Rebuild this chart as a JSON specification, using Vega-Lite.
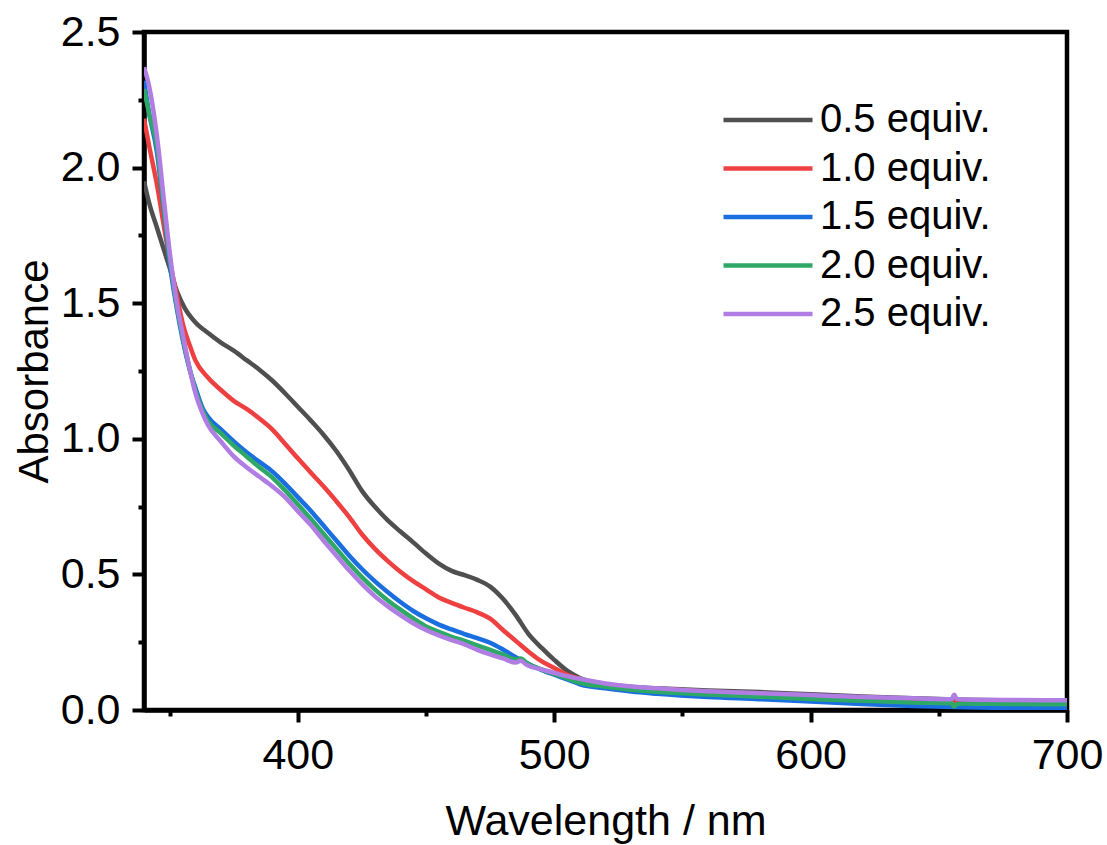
{
  "$schema": "https://vega.github.io/schema/vega-lite/v6.json",
  "width": 923,
  "height": 678,
  "autosize": {"type": "none"},
  "padding": {"left": 144, "top": 32, "right": 40, "bottom": 135},
  "background": "white",
  "config": {"view": {"stroke": "black", "strokeWidth": 4.5}, "font": "Liberation Sans"},
  "datasets": {
    "spec": [
      {"s":"0.5 equiv.","wl":340,"A":1.95},{"s":"0.5 equiv.","wl":342,"A":1.87},{"s":"0.5 equiv.","wl":345,"A":1.78},{"s":"0.5 equiv.","wl":348,"A":1.69},{"s":"0.5 equiv.","wl":350,"A":1.63},{"s":"0.5 equiv.","wl":353,"A":1.54},{"s":"0.5 equiv.","wl":356,"A":1.48},{"s":"0.5 equiv.","wl":360,"A":1.43},{"s":"0.5 equiv.","wl":365,"A":1.39},{"s":"0.5 equiv.","wl":370,"A":1.355},{"s":"0.5 equiv.","wl":375,"A":1.325},{"s":"0.5 equiv.","wl":380,"A":1.29},{"s":"0.5 equiv.","wl":385,"A":1.255},{"s":"0.5 equiv.","wl":390,"A":1.215},{"s":"0.5 equiv.","wl":395,"A":1.168},{"s":"0.5 equiv.","wl":400,"A":1.118},{"s":"0.5 equiv.","wl":405,"A":1.068},{"s":"0.5 equiv.","wl":410,"A":1.015},{"s":"0.5 equiv.","wl":415,"A":0.955},{"s":"0.5 equiv.","wl":420,"A":0.885},{"s":"0.5 equiv.","wl":425,"A":0.808},{"s":"0.5 equiv.","wl":430,"A":0.75},{"s":"0.5 equiv.","wl":435,"A":0.70},{"s":"0.5 equiv.","wl":440,"A":0.658},{"s":"0.5 equiv.","wl":445,"A":0.618},{"s":"0.5 equiv.","wl":450,"A":0.577},{"s":"0.5 equiv.","wl":455,"A":0.54},{"s":"0.5 equiv.","wl":460,"A":0.513},{"s":"0.5 equiv.","wl":465,"A":0.497},{"s":"0.5 equiv.","wl":470,"A":0.48},{"s":"0.5 equiv.","wl":475,"A":0.455},{"s":"0.5 equiv.","wl":480,"A":0.41},{"s":"0.5 equiv.","wl":485,"A":0.35},{"s":"0.5 equiv.","wl":490,"A":0.28},{"s":"0.5 equiv.","wl":495,"A":0.23},{"s":"0.5 equiv.","wl":500,"A":0.185},{"s":"0.5 equiv.","wl":505,"A":0.145},{"s":"0.5 equiv.","wl":510,"A":0.118},{"s":"0.5 equiv.","wl":520,"A":0.095},{"s":"0.5 equiv.","wl":530,"A":0.085},{"s":"0.5 equiv.","wl":540,"A":0.08},{"s":"0.5 equiv.","wl":560,"A":0.072},{"s":"0.5 equiv.","wl":580,"A":0.066},{"s":"0.5 equiv.","wl":600,"A":0.058},{"s":"0.5 equiv.","wl":620,"A":0.05},{"s":"0.5 equiv.","wl":640,"A":0.043},{"s":"0.5 equiv.","wl":660,"A":0.038},{"s":"0.5 equiv.","wl":680,"A":0.035},{"s":"0.5 equiv.","wl":700,"A":0.033},
      {"s":"1.0 equiv.","wl":340,"A":2.18},{"s":"1.0 equiv.","wl":342,"A":2.08},{"s":"1.0 equiv.","wl":345,"A":1.94},{"s":"1.0 equiv.","wl":348,"A":1.77},{"s":"1.0 equiv.","wl":350,"A":1.66},{"s":"1.0 equiv.","wl":353,"A":1.52},{"s":"1.0 equiv.","wl":355,"A":1.43},{"s":"1.0 equiv.","wl":358,"A":1.34},{"s":"1.0 equiv.","wl":360,"A":1.29},{"s":"1.0 equiv.","wl":365,"A":1.225},{"s":"1.0 equiv.","wl":370,"A":1.18},{"s":"1.0 equiv.","wl":375,"A":1.14},{"s":"1.0 equiv.","wl":380,"A":1.11},{"s":"1.0 equiv.","wl":385,"A":1.075},{"s":"1.0 equiv.","wl":390,"A":1.035},{"s":"1.0 equiv.","wl":395,"A":0.982},{"s":"1.0 equiv.","wl":400,"A":0.928},{"s":"1.0 equiv.","wl":405,"A":0.876},{"s":"1.0 equiv.","wl":410,"A":0.825},{"s":"1.0 equiv.","wl":415,"A":0.77},{"s":"1.0 equiv.","wl":420,"A":0.712},{"s":"1.0 equiv.","wl":425,"A":0.648},{"s":"1.0 equiv.","wl":430,"A":0.595},{"s":"1.0 equiv.","wl":435,"A":0.55},{"s":"1.0 equiv.","wl":440,"A":0.51},{"s":"1.0 equiv.","wl":445,"A":0.475},{"s":"1.0 equiv.","wl":450,"A":0.445},{"s":"1.0 equiv.","wl":455,"A":0.415},{"s":"1.0 equiv.","wl":460,"A":0.395},{"s":"1.0 equiv.","wl":465,"A":0.377},{"s":"1.0 equiv.","wl":470,"A":0.36},{"s":"1.0 equiv.","wl":475,"A":0.337},{"s":"1.0 equiv.","wl":480,"A":0.295},{"s":"1.0 equiv.","wl":485,"A":0.255},{"s":"1.0 equiv.","wl":490,"A":0.215},{"s":"1.0 equiv.","wl":495,"A":0.18},{"s":"1.0 equiv.","wl":500,"A":0.155},{"s":"1.0 equiv.","wl":505,"A":0.13},{"s":"1.0 equiv.","wl":510,"A":0.115},{"s":"1.0 equiv.","wl":520,"A":0.095},{"s":"1.0 equiv.","wl":530,"A":0.085},{"s":"1.0 equiv.","wl":540,"A":0.078},{"s":"1.0 equiv.","wl":560,"A":0.068},{"s":"1.0 equiv.","wl":580,"A":0.058},{"s":"1.0 equiv.","wl":600,"A":0.048},{"s":"1.0 equiv.","wl":620,"A":0.04},{"s":"1.0 equiv.","wl":640,"A":0.033},{"s":"1.0 equiv.","wl":660,"A":0.028},{"s":"1.0 equiv.","wl":680,"A":0.025},{"s":"1.0 equiv.","wl":700,"A":0.023},
      {"s":"1.5 equiv.","wl":340,"A":2.32},{"s":"1.5 equiv.","wl":342,"A":2.2},{"s":"1.5 equiv.","wl":345,"A":2.06},{"s":"1.5 equiv.","wl":348,"A":1.82},{"s":"1.5 equiv.","wl":350,"A":1.65},{"s":"1.5 equiv.","wl":353,"A":1.47},{"s":"1.5 equiv.","wl":355,"A":1.37},{"s":"1.5 equiv.","wl":358,"A":1.25},{"s":"1.5 equiv.","wl":360,"A":1.19},{"s":"1.5 equiv.","wl":363,"A":1.11},{"s":"1.5 equiv.","wl":365,"A":1.08},{"s":"1.5 equiv.","wl":370,"A":1.035},{"s":"1.5 equiv.","wl":375,"A":0.99},{"s":"1.5 equiv.","wl":380,"A":0.95},{"s":"1.5 equiv.","wl":385,"A":0.915},{"s":"1.5 equiv.","wl":390,"A":0.88},{"s":"1.5 equiv.","wl":395,"A":0.835},{"s":"1.5 equiv.","wl":400,"A":0.785},{"s":"1.5 equiv.","wl":405,"A":0.735},{"s":"1.5 equiv.","wl":410,"A":0.68},{"s":"1.5 equiv.","wl":415,"A":0.625},{"s":"1.5 equiv.","wl":420,"A":0.57},{"s":"1.5 equiv.","wl":425,"A":0.52},{"s":"1.5 equiv.","wl":430,"A":0.475},{"s":"1.5 equiv.","wl":435,"A":0.435},{"s":"1.5 equiv.","wl":440,"A":0.398},{"s":"1.5 equiv.","wl":445,"A":0.365},{"s":"1.5 equiv.","wl":450,"A":0.338},{"s":"1.5 equiv.","wl":455,"A":0.315},{"s":"1.5 equiv.","wl":460,"A":0.297},{"s":"1.5 equiv.","wl":465,"A":0.28},{"s":"1.5 equiv.","wl":470,"A":0.265},{"s":"1.5 equiv.","wl":475,"A":0.248},{"s":"1.5 equiv.","wl":480,"A":0.223},{"s":"1.5 equiv.","wl":485,"A":0.195},{"s":"1.5 equiv.","wl":490,"A":0.17},{"s":"1.5 equiv.","wl":495,"A":0.148},{"s":"1.5 equiv.","wl":500,"A":0.13},{"s":"1.5 equiv.","wl":505,"A":0.113},{"s":"1.5 equiv.","wl":510,"A":0.095},{"s":"1.5 equiv.","wl":520,"A":0.08},{"s":"1.5 equiv.","wl":530,"A":0.068},{"s":"1.5 equiv.","wl":540,"A":0.06},{"s":"1.5 equiv.","wl":560,"A":0.048},{"s":"1.5 equiv.","wl":580,"A":0.04},{"s":"1.5 equiv.","wl":600,"A":0.031},{"s":"1.5 equiv.","wl":620,"A":0.022},{"s":"1.5 equiv.","wl":640,"A":0.015},{"s":"1.5 equiv.","wl":660,"A":0.01},{"s":"1.5 equiv.","wl":680,"A":0.007},{"s":"1.5 equiv.","wl":700,"A":0.006},
      {"s":"2.0 equiv.","wl":340,"A":2.29},{"s":"2.0 equiv.","wl":342,"A":2.2},{"s":"2.0 equiv.","wl":345,"A":2.08},{"s":"2.0 equiv.","wl":348,"A":1.83},{"s":"2.0 equiv.","wl":350,"A":1.67},{"s":"2.0 equiv.","wl":353,"A":1.48},{"s":"2.0 equiv.","wl":355,"A":1.38},{"s":"2.0 equiv.","wl":358,"A":1.25},{"s":"2.0 equiv.","wl":360,"A":1.18},{"s":"2.0 equiv.","wl":363,"A":1.1},{"s":"2.0 equiv.","wl":365,"A":1.065},{"s":"2.0 equiv.","wl":370,"A":1.02},{"s":"2.0 equiv.","wl":375,"A":0.975},{"s":"2.0 equiv.","wl":380,"A":0.935},{"s":"2.0 equiv.","wl":385,"A":0.895},{"s":"2.0 equiv.","wl":390,"A":0.858},{"s":"2.0 equiv.","wl":395,"A":0.81},{"s":"2.0 equiv.","wl":400,"A":0.758},{"s":"2.0 equiv.","wl":405,"A":0.705},{"s":"2.0 equiv.","wl":410,"A":0.65},{"s":"2.0 equiv.","wl":415,"A":0.595},{"s":"2.0 equiv.","wl":420,"A":0.54},{"s":"2.0 equiv.","wl":425,"A":0.49},{"s":"2.0 equiv.","wl":430,"A":0.445},{"s":"2.0 equiv.","wl":435,"A":0.405},{"s":"2.0 equiv.","wl":440,"A":0.37},{"s":"2.0 equiv.","wl":445,"A":0.338},{"s":"2.0 equiv.","wl":450,"A":0.308},{"s":"2.0 equiv.","wl":455,"A":0.288},{"s":"2.0 equiv.","wl":460,"A":0.27},{"s":"2.0 equiv.","wl":465,"A":0.255},{"s":"2.0 equiv.","wl":470,"A":0.238},{"s":"2.0 equiv.","wl":475,"A":0.222},{"s":"2.0 equiv.","wl":480,"A":0.205},{"s":"2.0 equiv.","wl":485,"A":0.186},{"s":"2.0 equiv.","wl":487,"A":0.19},{"s":"2.0 equiv.","wl":489,"A":0.176},{"s":"2.0 equiv.","wl":490,"A":0.17},{"s":"2.0 equiv.","wl":495,"A":0.15},{"s":"2.0 equiv.","wl":500,"A":0.133},{"s":"2.0 equiv.","wl":505,"A":0.117},{"s":"2.0 equiv.","wl":510,"A":0.1},{"s":"2.0 equiv.","wl":520,"A":0.086},{"s":"2.0 equiv.","wl":530,"A":0.075},{"s":"2.0 equiv.","wl":540,"A":0.067},{"s":"2.0 equiv.","wl":560,"A":0.057},{"s":"2.0 equiv.","wl":580,"A":0.049},{"s":"2.0 equiv.","wl":600,"A":0.041},{"s":"2.0 equiv.","wl":620,"A":0.034},{"s":"2.0 equiv.","wl":640,"A":0.028},{"s":"2.0 equiv.","wl":655,"A":0.025},{"s":"2.0 equiv.","wl":656,"A":0.012},{"s":"2.0 equiv.","wl":657,"A":0.022},{"s":"2.0 equiv.","wl":660,"A":0.024},{"s":"2.0 equiv.","wl":680,"A":0.022},{"s":"2.0 equiv.","wl":700,"A":0.021},
      {"s":"2.5 equiv.","wl":340,"A":2.37},{"s":"2.5 equiv.","wl":342,"A":2.3},{"s":"2.5 equiv.","wl":345,"A":2.12},{"s":"2.5 equiv.","wl":348,"A":1.86},{"s":"2.5 equiv.","wl":350,"A":1.69},{"s":"2.5 equiv.","wl":353,"A":1.49},{"s":"2.5 equiv.","wl":355,"A":1.39},{"s":"2.5 equiv.","wl":358,"A":1.25},{"s":"2.5 equiv.","wl":360,"A":1.17},{"s":"2.5 equiv.","wl":363,"A":1.09},{"s":"2.5 equiv.","wl":365,"A":1.05},{"s":"2.5 equiv.","wl":370,"A":0.99},{"s":"2.5 equiv.","wl":375,"A":0.935},{"s":"2.5 equiv.","wl":380,"A":0.895},{"s":"2.5 equiv.","wl":385,"A":0.86},{"s":"2.5 equiv.","wl":390,"A":0.825},{"s":"2.5 equiv.","wl":395,"A":0.785},{"s":"2.5 equiv.","wl":400,"A":0.733},{"s":"2.5 equiv.","wl":405,"A":0.683},{"s":"2.5 equiv.","wl":410,"A":0.625},{"s":"2.5 equiv.","wl":415,"A":0.57},{"s":"2.5 equiv.","wl":420,"A":0.515},{"s":"2.5 equiv.","wl":425,"A":0.465},{"s":"2.5 equiv.","wl":430,"A":0.42},{"s":"2.5 equiv.","wl":435,"A":0.383},{"s":"2.5 equiv.","wl":440,"A":0.35},{"s":"2.5 equiv.","wl":445,"A":0.32},{"s":"2.5 equiv.","wl":450,"A":0.295},{"s":"2.5 equiv.","wl":455,"A":0.275},{"s":"2.5 equiv.","wl":460,"A":0.258},{"s":"2.5 equiv.","wl":465,"A":0.242},{"s":"2.5 equiv.","wl":470,"A":0.222},{"s":"2.5 equiv.","wl":475,"A":0.205},{"s":"2.5 equiv.","wl":480,"A":0.19},{"s":"2.5 equiv.","wl":485,"A":0.175},{"s":"2.5 equiv.","wl":487,"A":0.182},{"s":"2.5 equiv.","wl":489,"A":0.168},{"s":"2.5 equiv.","wl":490,"A":0.163},{"s":"2.5 equiv.","wl":495,"A":0.15},{"s":"2.5 equiv.","wl":500,"A":0.137},{"s":"2.5 equiv.","wl":505,"A":0.125},{"s":"2.5 equiv.","wl":510,"A":0.115},{"s":"2.5 equiv.","wl":520,"A":0.098},{"s":"2.5 equiv.","wl":530,"A":0.087},{"s":"2.5 equiv.","wl":540,"A":0.08},{"s":"2.5 equiv.","wl":560,"A":0.069},{"s":"2.5 equiv.","wl":580,"A":0.062},{"s":"2.5 equiv.","wl":600,"A":0.055},{"s":"2.5 equiv.","wl":620,"A":0.048},{"s":"2.5 equiv.","wl":640,"A":0.043},{"s":"2.5 equiv.","wl":655,"A":0.04},{"s":"2.5 equiv.","wl":656,"A":0.056},{"s":"2.5 equiv.","wl":657,"A":0.041},{"s":"2.5 equiv.","wl":660,"A":0.039},{"s":"2.5 equiv.","wl":680,"A":0.037},{"s":"2.5 equiv.","wl":700,"A":0.036}
    ]
  },
  "data": {"name": "spec"},
  "mark": {"type": "line", "strokeWidth": 4.5, "interpolate": "monotone", "clip": true},
  "encoding": {
    "x": {
      "field": "wl", "type": "quantitative",
      "scale": {"domain": [340, 700], "nice": false, "zero": false},
      "axis": {
        "title": "Wavelength / nm",
        "values": [350, 400, 450, 500, 550, 600, 650, 700],
        "labelExpr": "datum.value % 100 === 0 ? datum.label : ''",
        "tickSize": {"condition": {"test": "datum.value % 100 === 0", "value": 12}, "value": 6},
        "tickWidth": 4, "tickColor": "black",
        "domainColor": "black", "domainWidth": 4.5,
        "labelFontSize": 43, "labelFont": "Liberation Sans", "labelColor": "black",
        "labelPadding": 12, "labelFlush": false, "labelOverlap": false,
        "grid": false,
        "titleFontSize": 43, "titleFont": "Liberation Sans", "titleFontWeight": "normal", "titleColor": "black",
        "titleBaseline": "alphabetic", "titleY": 124
      }
    },
    "y": {
      "field": "A", "type": "quantitative",
      "scale": {"domain": [0, 2.5], "nice": false},
      "axis": {
        "title": "Absorbance",
        "values": [0, 0.25, 0.5, 0.75, 1, 1.25, 1.5, 1.75, 2, 2.25, 2.5],
        "labelExpr": "abs(datum.value*2 - round(datum.value*2)) < 0.001 ? format(datum.value, '.1f') : ''",
        "tickSize": {"condition": {"test": "abs(datum.value*2 - round(datum.value*2)) < 0.001", "value": 12}, "value": 6},
        "tickWidth": 4, "tickColor": "black",
        "domainColor": "black", "domainWidth": 4.5,
        "labelFontSize": 43, "labelFont": "Liberation Sans", "labelColor": "black",
        "labelPadding": 12, "labelFlush": false, "labelOverlap": false,
        "grid": false,
        "titleFontSize": 42, "titleFont": "Liberation Sans", "titleFontWeight": "normal", "titleColor": "black",
        "titleBaseline": "alphabetic", "titleAngle": 270, "titleX": -97, "titleY": 339, "titleAlign": "center"
      }
    },
    "color": {
      "field": "s", "type": "nominal",
      "scale": {
        "domain": ["0.5 equiv.", "1.0 equiv.", "1.5 equiv.", "2.0 equiv.", "2.5 equiv."],
        "range": ["#4f4f4f", "#ee4040", "#1a6ee0", "#2ea866", "#b07ee3"]
      },
      "legend": {
        "title": null, "orient": "none", "legendX": 577, "legendY": 68,
        "symbolType": "stroke", "symbolSize": 7921, "symbolStrokeWidth": 4.5,
        "labelFontSize": 40, "labelFont": "Liberation Sans", "labelColor": "black", "labelLimit": 0,
        "labelOffset": 5, "clipHeight": 40, "rowPadding": 8.5, "padding": 0
      }
    }
  }
}
